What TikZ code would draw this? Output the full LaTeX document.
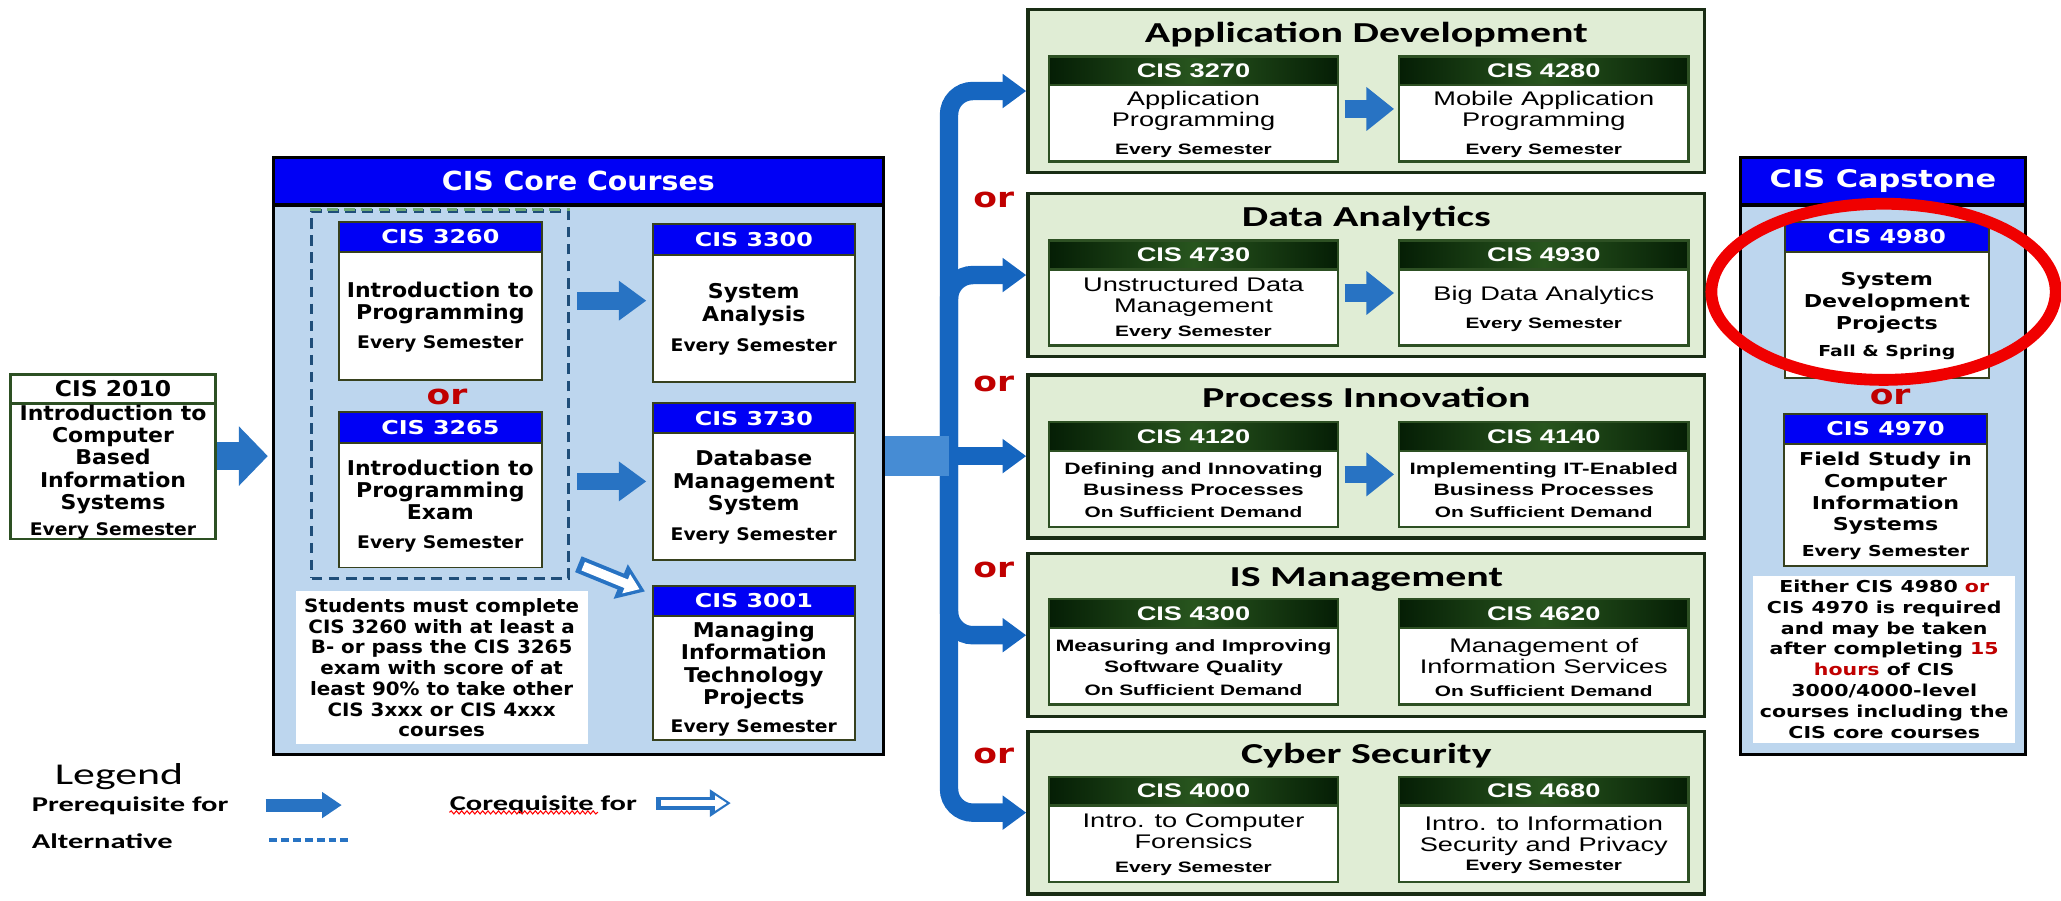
\documentclass[tikz,border=0pt]{standalone}
\usepackage{fontspec}
\setmainfont{DejaVu Sans}
\newfontfamily\coref{DejaVu Sans}[FakeStretch=1.08]
\newfontfamily\headf{DejaVu Sans}[FakeStretch=1.25]
\newfontfamily\trackf{Liberation Sans}[FakeStretch=1.38]
\newfontfamily\titlef{Carlito}[FakeStretch=1.45]
\usepackage{tikz}
\usetikzlibrary{arrows.meta,calc,fit,shapes.geometric,decorations.pathmorphing}
\usepackage{xcolor}
\definecolor{headblue}{RGB}{0,0,245}
\definecolor{coreblue}{RGB}{189,214,238}
\definecolor{coreline}{RGB}{55,65,30}
\definecolor{trkfill}{RGB}{224,237,213}
\definecolor{trkline}{RGB}{25,45,20}
\definecolor{crsline}{RGB}{45,80,35}
\definecolor{hdark}{RGB}{5,30,5}
\definecolor{hmid}{RGB}{40,85,30}
\definecolor{arrowblue}{RGB}{40,115,195}
\definecolor{branchblue}{RGB}{22,102,192}
\definecolor{feedblue}{RGB}{70,140,212}
\definecolor{altblue}{RGB}{31,78,121}
\definecolor{altgreen}{RGB}{110,170,120}
\definecolor{orred}{RGB}{192,0,0}
\definecolor{ringred}{RGB}{240,0,0}
\tikzstyle{panel} = [draw=black, line width=2.5, fill=coreblue]
\tikzstyle{panelhead} = [draw=black, line width=2.5, fill=headblue, minimum height=36, text=white, font=\coref\bfseries\fontsize{20}{20}\selectfont]
\tikzstyle{cframe} = [draw=coreline, line width=1.5, fill=white, minimum width=154]
\tikzstyle{chead} = [draw=coreline, line width=1.5, fill=headblue, minimum width=154, minimum height=23, text=white, font=\headf\bfseries\fontsize{14.5}{15}\selectfont]
\tikzstyle{ctext} = [align=center, inner sep=0, font=\coref\bfseries\fontsize{15.5}{17}\selectfont]
\tikzstyle{kframe} = [cframe, minimum width=155]
\tikzstyle{khead} = [chead, minimum width=155]
\tikzstyle{ktext} = [align=center, inner sep=0, font=\headf\bfseries\fontsize{13.5}{16.5}\selectfont]
\tikzstyle{bframe} = [draw=crsline, line width=1.8, fill=white, minimum width=156]
\tikzstyle{bhead} = [draw=crsline, line width=1.8, fill=white, minimum width=156, minimum height=22, font=\coref\bfseries\fontsize{16.5}{17}\selectfont]
\tikzstyle{btext} = [ctext]
\tikzstyle{trackbox} = [draw=trkline, line width=2.5, fill=trkfill, minimum width=515, minimum height=124, anchor=north]
\tikzstyle{tracktitle} = [anchor=base, inner sep=0, font=\titlef\bfseries\fontsize{22}{22}\selectfont]
\tikzstyle{tframe} = [draw=crsline, line width=1.8, fill=white, minimum width=220]
\tikzstyle{thead} = [draw=crsline, line width=1.8, minimum width=220, minimum height=22, left color=hdark, right color=hdark, middle color=hmid, text=white, font=\trackf\bfseries\fontsize{15}{15}\selectfont]
\tikzstyle{ttext} = [align=center, inner sep=0, font=\trackf\fontsize{15}{15.6}\selectfont]
\tikzstyle{orword} = [text=orred, inner sep=0, font=\headf\bfseries\fontsize{21}{21}\selectfont]
\tikzstyle{notebox} = [fill=white, align=center, font=\coref\bfseries\fontsize{14}{15.8}\selectfont]
\tikzstyle{capnotebox} = [fill=white, align=center, font=\headf\bfseries\fontsize{12.5}{15.8}\selectfont]
\tikzstyle{altbox} = [draw=altblue, line width=2.5, dash pattern=on 8pt off 5pt, inner xsep=20, inner ysep=7.5]
\tikzstyle{prereq} = [draw=arrowblue, line width=13.5, -{Triangle[width=29pt,length=21pt]}]
\tikzstyle{tarrow} = [draw=arrowblue, line width=13, -{Triangle[width=32pt,length=21pt]}]
\tikzstyle{entry} = [draw=arrowblue, line width=21, -{Triangle[width=44pt,length=22pt]}]
\tikzstyle{branch} = [draw=branchblue, line width=14, rounded corners=18, -{Triangle[width=25pt,length=18pt]}]
\tikzstyle{feed} = [draw=feedblue, line width=30]
\tikzstyle{coreqout} = [draw=arrowblue, line width=13, -{Triangle[width=27pt,length=20pt]}]
\tikzstyle{coreqin} = [draw=white, line width=7, -{Triangle[width=15pt,length=11pt]}, shorten >=4.5pt, shorten <=4pt]
\tikzstyle{legitem} = [anchor=west, inner sep=0, font=\titlef\bfseries\fontsize{16}{16}\selectfont]
\tikzstyle{altline} = [draw=arrowblue, line width=3, dash pattern=on 6pt off 3pt]
\tikzstyle{squig} = [draw=red, line width=0.8, decorate, decoration={snake, amplitude=1.2pt, segment length=4pt}]
\tikzstyle{ring} = [ellipse, draw=ringred, line width=9, minimum width=262, minimum height=134]
% course box: kind, name, x, top y, height, number, text
\newcommand{\course}[7]{%
  \node[#1frame, minimum height=#5, anchor=north] (#2) at (#3,#4) {};
  \node[#1head, anchor=north] (#2h) at (#2.north) {#6};
  \node[#1text] (#2t) at ($(#2h.south)!0.5!(#2.south)$) {#7};
}
\newcommand{\offered}[2][13.2]{{\fontsize{#1}{#1}\selectfont #2}}
\newcommand{\toffer}[1]{\offered[11.5]{\bfseries #1}}
\newcommand{\bline}[1]{{\bfseries\fontsize{12.5}{15}\selectfont #1}}

\begin{document}
\begin{tikzpicture}[x=1pt, y=-1pt]
\useasboundingbox (0,0) rectangle (1568,685);

% Entry course
\course{b}{c2010}{86}{284}{125}{CIS 2010}{Introduction to\\Computer\\Based\\Information\\Systems\\[3pt]\offered{Every Semester}}

% Core courses
\node[panel, minimum width=464, minimum height=454] (core) at (440,347) {};
\node[panelhead, minimum width=464, anchor=north] (coreT) at (core.north) {CIS Core Courses};
\course{c}{c3260}{335}{168}{120}{CIS 3260}{Introduction to\\Programming\\[5pt]\offered{Every Semester}}
\course{c}{c3265}{335}{313}{118}{CIS 3265}{Introduction to\\Programming\\Exam\\[5pt]\offered{Every Semester}}
\course{c}{c3300}{573.5}{170}{120}{CIS 3300}{System\\Analysis\\[6pt]\offered{Every Semester}}
\course{c}{c3730}{573.5}{306}{119}{CIS 3730}{Database\\Management\\System\\[6pt]\offered{Every Semester}}
\course{c}{c3001}{573.5}{445}{117}{CIS 3001}{Managing\\Information\\Technology\\Projects\\[4pt]\offered{Every Semester}}
\node[altbox, fit=(c3260)(c3265)] (alt) {};
\draw[altbox, draw=altgreen] (alt.north west) -- (alt.north east);
\node[orword] (orcore) at (340,302) {or};
\node[notebox, minimum width=222, minimum height=116] (corenote) at (336,508) {Students must complete\\CIS 3260 with at least a\\B- or pass the CIS 3265\\exam with score of at\\least 90\% to take other\\CIS 3xxx or CIS 4xxx\\courses};

% Core arrows
\draw[entry, shorten >=3pt] (c2010.east |- core.west) -- (core.west);
\draw[prereq, shorten <=26.5pt, shorten >=4pt] (c3260.east) -- (c3260.east -| c3300.west);
\draw[prereq, shorten <=26.5pt, shorten >=4pt] (c3265.east |- c3730.west) -- (c3730.west);
\draw[coreqout] ([xshift=6,yshift=12]alt.south east) -- ([xshift=-5,yshift=-5]c3001.north west);
\draw[coreqin] ([xshift=6,yshift=12]alt.south east) -- ([xshift=-5,yshift=-5]c3001.north west);

% Tracks
\node[trackbox] (appdev) at (1039.5,6) {};
\node[tracktitle] (appdevT) at ([yshift=-26]appdev.north) {Application Development};
\node[trackbox] (dataan) at (1039.5,146) {};
\node[tracktitle] (dataanT) at ([yshift=-26]dataan.north) {Data Analytics};
\node[trackbox] (procin) at (1039.5,284) {};
\node[tracktitle] (procinT) at ([yshift=-26]procin.north) {Process Innovation};
\node[trackbox] (ismgmt) at (1039.5,420) {};
\node[tracktitle] (ismgmtT) at ([yshift=-26]ismgmt.north) {IS Management};
\node[trackbox] (cyber) at (1039.5,555) {};
\node[tracktitle] (cyberT) at ([yshift=-26]cyber.north) {Cyber Security};

\course{t}{c3270}{908}{42}{80}{CIS 3270}{Application\\Programming\\[6pt]\toffer{Every Semester}}
\course{t}{c4280}{1174.5}{42}{80}{CIS 4280}{Mobile Application\\Programming\\[6pt]\toffer{Every Semester}}
\course{t}{c4730}{908}{182}{80}{CIS 4730}{Unstructured Data\\Management\\[3pt]\toffer{Every Semester}}
\course{t}{c4930}{1174.5}{182}{80}{CIS 4930}{Big Data Analytics\\[6pt]\toffer{Every Semester}}
\course{t}{c4120}{908}{320}{80}{CIS 4120}{\bline{Defining and Innovating}\\\bline{Business Processes}\\[1pt]\toffer{On Sufficient Demand}}
\course{t}{c4140}{1174.5}{320}{80}{CIS 4140}{\bline{Implementing IT-Enabled}\\\bline{Business Processes}\\[1pt]\toffer{On Sufficient Demand}}
\course{t}{c4300}{908}{455}{80}{CIS 4300}{\bline{Measuring and Improving}\\\bline{Software Quality}\\[2pt]\toffer{On Sufficient Demand}}
\course{t}{c4620}{1174.5}{455}{80}{CIS 4620}{Management of\\Information Services\\[2pt]\toffer{On Sufficient Demand}}
\course{t}{c4000}{908}{590}{80}{CIS 4000}{Intro. to Computer\\Forensics\\[3pt]\toffer{Every Semester}}
\course{t}{c4680}{1174.5}{590}{80}{CIS 4680}{Intro. to Information\\Security and Privacy\\[-1pt]\toffer{Every Semester}}

\draw[tarrow, shorten <=4pt, shorten >=3pt] (c3270.east) -- (c4280.west);
\draw[tarrow, shorten <=4pt, shorten >=3pt] (c4730.east) -- (c4930.west);
\draw[tarrow, shorten <=4pt, shorten >=3pt] (c4120.east) -- (c4140.west);

% Branching to tracks
\coordinate (split) at (722,347);
\draw[branch] (split) |- (appdev.west);
\draw[branch] (split) |- (dataan.west);
\draw[branch] (split) -- (split -| procin.west);
\draw[branch] (split) |- (ismgmt.west);
\draw[branch] (split) |- (cyber.west);
\draw[feed] (core.east) -- (split);
\node[orword] (orA) at (756,152.5) {or};
\node[orword] (orB) at (756,292) {or};
\node[orword] (orC) at (756,434) {or};
\node[orword] (orD) at (756,575) {or};

% Capstone
\node[panel, minimum width=217, minimum height=454] (cap) at (1432.5,347) {};
\node[panelhead, minimum width=217, anchor=north, font=\headf\bfseries\fontsize{18.5}{19}\selectfont] (capT) at (cap.north) {CIS Capstone};
\course{k}{c4980}{1435.5}{168}{119}{CIS 4980}{System\\Development\\Projects\\[4pt]\offered[11.5]{Fall \& Spring}}
\node[orword] (orcap) at (1438,302) {or};
\course{k}{c4970}{1434.5}{314}{116}{CIS 4970}{Field Study in\\Computer\\Information\\Systems\\[3pt]\offered[11.5]{Every Semester}}
\node[capnotebox, minimum width=199, minimum height=125] (capnote) at (1433.5,501.5) {Either CIS 4980 \textcolor{orred}{or}\\CIS 4970 is required\\and may be taken\\after completing \textcolor{orred}{15}\\\textcolor{orred}{hours} of CIS\\3000/4000-level\\courses including the\\CIS core courses};

% Legend
\node[inner sep=0, font=\titlef\fontsize{23}{23}\selectfont] (legT) at (90.5,591) {Legend};
\node[legitem] (legPre) at (24,613) {Prerequisite for};
\node[legitem] (legCo) at (342,612) {Corequisite for};
\node[legitem] (legAlt) at (24,640) {Alternative};
\coordinate (preA) at (202,612.5);
\coordinate (preB) at (260,612.5);
\draw[prereq, line width=10, -{Triangle[width=19pt,length=15pt]}] (preA) -- (preB);
\coordinate (coA) at (499,611);
\coordinate (coB) at (556,611);
\draw[coreqout, line width=10, -{Triangle[width=20pt,length=16pt]}] (coA) -- (coB);
\draw[coreqin, line width=5, -{Triangle[width=11pt,length=9pt]}, shorten >=3pt, shorten <=4pt] (coA) -- (coB);
\coordinate (altA) at (205,639);
\coordinate (altB) at (265,639);
\draw[altline] (altA) -- (altB);
\draw[squig] ([yshift=1]legCo.south west) -- ++(113,0);

% Highlight
\node[ring] (ring) at (1433,222) {};
\end{tikzpicture}
\end{document}
